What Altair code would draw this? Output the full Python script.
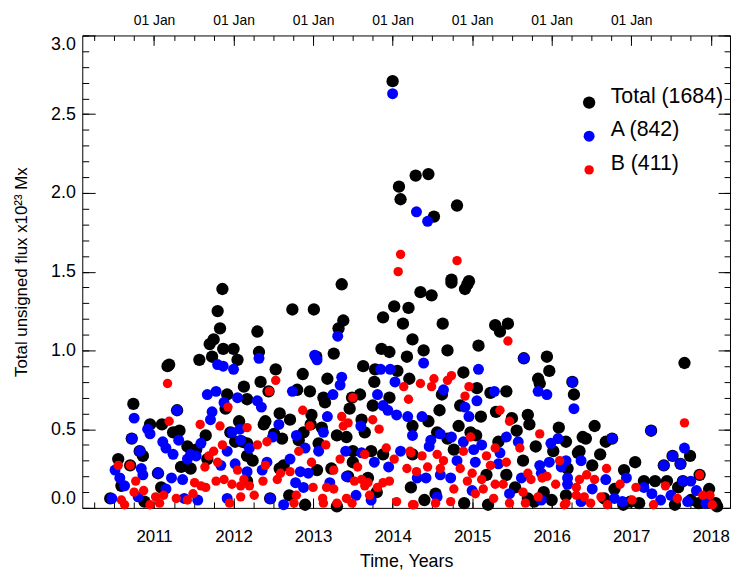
import altair as alt
import pandas as pd

FONT = "Liberation Sans"

series_names = ["Total (1684)", "A (842)", "B (411)"]
series_colors = ["#000000", "#0000ff", "#ff0000"]
series_sizes = [155, 90, 90]

year_ticks = [2011, 2012, 2013, 2014, 2015, 2016, 2017, 2018]
top_label_years = [2011, 2012, 2013, 2014, 2015, 2016, 2017]
quarter_ticks = [2010.25, 2010.5, 2010.75] + [y + q for y in year_ticks[:-1] for q in (0.0, 0.25, 0.5, 0.75)] + [2018.0]
flux_major = [0.0, 0.5, 1.0, 1.5, 2.0, 2.5, 3.0]
flux_minor = [round(i * 0.1, 1) for i in range(31)]

# (decimal year, flux in 1e23 Mx)
total_pts = [
    (2014.00, 2.71), (2014.29, 2.11), (2014.45, 2.12), (2014.08, 2.04), (2014.10, 1.96),
    (2014.52, 1.85), (2014.81, 1.92), (2014.74, 1.45), (2014.96, 1.44),
    (2011.86, 1.39), (2011.80, 1.25), (2011.83, 1.14), (2011.75, 1.07), (2011.70, 1.04),
    (2011.87, 1.01), (2012.00, 1.01), (2011.57, 0.94), (2011.73, 0.96), (2012.05, 0.94),
    (2011.17, 0.90), (2011.19, 0.91), (2010.74, 0.66), (2012.13, 0.77), (2011.92, 0.72),
    (2012.17, 0.69), (2011.90, 0.63), (2010.95, 0.53), (2011.10, 0.53), (2011.24, 0.48),
    (2011.32, 0.49), (2011.65, 0.46), (2012.07, 0.55), (2011.96, 0.48), (2010.72, 0.44),
    (2012.02, 0.42), (2011.42, 0.39), (2011.53, 0.37), (2010.86, 0.33), (2010.55, 0.31),
    (2010.70, 0.27), (2011.05, 0.22), (2011.34, 0.26), (2011.46, 0.25), (2010.59, 0.14),
    (2011.09, 0.13), (2010.45, 0.06), (2010.88, 0.04), (2012.17, 0.33), (2012.11, 0.42),
    (2011.67, 0.31), (2011.29, 0.62), (2010.82, 0.36),
    (2013.36, 1.42), (2012.74, 1.26), (2013.01, 1.26), (2013.38, 1.19), (2013.32, 1.14),
    (2012.30, 1.12), (2014.02, 1.28), (2014.20, 1.27), (2013.88, 1.21), (2014.13, 1.17),
    (2014.25, 1.07), (2012.32, 0.99), (2013.26, 0.98), (2013.04, 0.96), (2013.86, 1.01),
    (2013.96, 0.99), (2014.18, 0.96), (2012.53, 0.88), (2013.63, 0.90), (2012.87, 0.85),
    (2013.78, 0.88), (2014.06, 0.87), (2013.18, 0.82), (2014.21, 0.82), (2012.34, 0.80),
    (2012.44, 0.74), (2012.80, 0.75), (2012.96, 0.74), (2013.13, 0.70), (2013.15, 0.67),
    (2013.59, 0.72), (2013.49, 0.70), (2013.77, 0.80), (2013.96, 0.70), (2013.46, 0.63),
    (2013.75, 0.65), (2012.58, 0.60), (2012.71, 0.56), (2012.98, 0.59), (2012.38, 0.53),
    (2013.11, 0.51), (2013.61, 0.56), (2013.65, 0.48), (2014.25, 0.52), (2012.51, 0.47),
    (2012.61, 0.44), (2012.88, 0.48), (2012.82, 0.43), (2013.30, 0.46), (2013.42, 0.45),
    (2013.07, 0.41), (2012.17, 0.41), (2013.50, 0.36), (2013.73, 0.36), (2013.88, 0.34),
    (2012.24, 0.30), (2012.63, 0.27), (2013.23, 0.25), (2013.50, 0.29), (2013.44, 0.20),
    (2013.69, 0.19), (2014.25, 0.34), (2012.17, 0.17), (2012.46, 0.06),
    (2012.97, 0.53), (2012.58, 0.25), (2013.05, 0.24), (2012.40, 0.55),
    (2014.74, 1.43), (2014.94, 1.42), (2014.91, 1.39), (2014.35, 1.37), (2014.49, 1.35),
    (2014.63, 1.17), (2015.29, 1.16), (2015.45, 1.17), (2015.35, 1.12), (2014.39, 1.00),
    (2014.69, 1.00), (2015.08, 1.03), (2015.94, 0.96), (2015.97, 0.87), (2015.83, 0.82),
    (2015.85, 0.79), (2014.89, 0.86), (2014.62, 0.72), (2015.06, 0.76), (2015.23, 0.73),
    (2015.43, 0.74), (2016.28, 0.72), (2014.85, 0.65), (2014.59, 0.62), (2015.11, 0.58),
    (2015.30, 0.61), (2015.70, 0.59), (2015.72, 0.53), (2014.83, 0.52), (2015.50, 0.57),
    (2015.56, 0.49), (2016.09, 0.51), (2014.56, 0.48), (2014.98, 0.48), (2014.69, 0.44),
    (2015.33, 0.42), (2015.80, 0.39), (2016.02, 0.36), (2016.18, 0.42), (2014.77, 0.37),
    (2016.33, 0.35), (2015.64, 0.30), (2016.20, 0.25), (2015.18, 0.21), (2015.43, 0.21),
    (2014.54, 0.09), (2015.54, 0.13), (2015.70, 0.06), (2016.18, 0.08), (2014.23, 0.13),
    (2015.65, 0.95), (2016.26, 0.80), (2015.05, 0.46), (2015.78, 0.04), (2014.45, 0.55),
    (2017.67, 0.92), (2016.54, 0.52), (2016.39, 0.45), (2016.43, 0.44), (2016.68, 0.42),
    (2016.35, 0.36), (2016.61, 0.34), (2017.05, 0.29), (2017.74, 0.33), (2016.51, 0.27),
    (2016.91, 0.24), (2017.16, 0.17), (2017.30, 0.17), (2017.45, 0.17), (2017.86, 0.21),
    (2017.98, 0.12), (2017.59, 0.13), (2016.79, 0.12), (2016.66, 0.06), (2017.75, 0.05),
    (2018.06, 0.03), (2016.99, 0.04), (2016.76, 0.44), (2017.25, 0.49), (2017.41, 0.27),
    (2017.52, 0.33), (2017.62, 0.28), (2017.65, 0.17),
    (2016.90, 0.02), (2017.10, 0.03), (2017.55, 0.02), (2017.85, 0.03), (2018.08, 0.01),
    (2015.20, 0.02), (2014.90, 0.03), (2013.30, 0.01), (2012.90, 0.02), (2013.80, 0.10),
    (2014.40, 0.05), (2015.90, 0.10), (2016.00, 0.05), (2012.70, 0.08),
]

a_pts = [
    (2014.00, 2.63), (2014.30, 1.88), (2014.44, 1.82),
    (2011.80, 0.91), (2011.87, 0.90), (2012.00, 0.88), (2011.67, 0.72), (2011.78, 0.74),
    (2012.05, 0.70), (2011.88, 0.67), (2011.29, 0.62), (2010.75, 0.57), (2011.73, 0.61),
    (2011.71, 0.56), (2010.92, 0.50), (2010.95, 0.47), (2011.11, 0.42), (2011.15, 0.38),
    (2011.31, 0.43), (2010.72, 0.44), (2010.82, 0.36), (2011.24, 0.34), (2011.46, 0.34),
    (2011.53, 0.33), (2011.98, 0.48), (2012.09, 0.43), (2011.92, 0.36), (2011.59, 0.41),
    (2012.02, 0.28), (2011.84, 0.27), (2010.51, 0.24), (2010.84, 0.25), (2011.05, 0.22),
    (2011.22, 0.19), (2011.36, 0.18), (2010.57, 0.19), (2010.63, 0.14), (2010.86, 0.21),
    (2010.47, 0.06), (2010.80, 0.07), (2011.15, 0.12), (2011.55, 0.05), (2011.92, 0.06),
    (2012.17, 0.23), (2011.42, 0.31), (2011.38, 0.06), (2012.08, 0.50),
    (2013.31, 1.09), (2013.02, 0.97), (2013.05, 0.94), (2012.32, 0.95), (2013.85, 0.88),
    (2013.97, 0.88), (2013.36, 0.83), (2013.34, 0.78), (2014.03, 0.80), (2012.74, 0.74),
    (2013.25, 0.72), (2013.81, 0.72), (2012.30, 0.68), (2012.35, 0.64), (2013.88, 0.65),
    (2013.94, 0.62), (2014.05, 0.59), (2014.19, 0.58), (2013.18, 0.58), (2012.57, 0.53),
    (2013.60, 0.52), (2013.13, 0.48), (2012.79, 0.46), (2012.49, 0.45), (2014.25, 0.46),
    (2012.90, 0.38), (2013.07, 0.36), (2013.41, 0.36), (2014.10, 0.36), (2013.77, 0.29),
    (2013.95, 0.26), (2012.20, 0.38), (2012.42, 0.29), (2012.71, 0.31), (2012.36, 0.24),
    (2012.84, 0.23), (2012.94, 0.22), (2013.42, 0.20), (2012.78, 0.16), (2012.88, 0.13),
    (2013.21, 0.16), (2013.54, 0.08), (2013.73, 0.05), (2012.46, 0.06), (2012.63, 0.02),
    (2013.61, 0.35),
    (2014.39, 0.92), (2015.08, 0.88), (2015.65, 0.95), (2016.26, 0.80), (2014.64, 0.75),
    (2015.28, 0.74), (2015.83, 0.74), (2015.94, 0.72), (2015.06, 0.68), (2014.91, 0.64),
    (2014.96, 0.58), (2014.37, 0.58), (2016.28, 0.63), (2014.60, 0.47), (2014.74, 0.45),
    (2014.48, 0.43), (2014.46, 0.39), (2014.89, 0.42), (2015.12, 0.40), (2015.43, 0.45),
    (2015.58, 0.42), (2015.02, 0.37), (2015.35, 0.35), (2015.99, 0.41), (2016.08, 0.44),
    (2014.81, 0.30), (2015.04, 0.29), (2015.33, 0.28), (2015.85, 0.27), (2015.97, 0.29),
    (2016.12, 0.26), (2014.42, 0.19), (2014.60, 0.21), (2014.73, 0.19), (2015.62, 0.19),
    (2015.87, 0.22), (2016.20, 0.19), (2014.56, 0.07), (2015.47, 0.09), (2015.87, 0.05),
    (2015.00, 0.11), (2014.31, 0.19),
    (2016.76, 0.44), (2017.25, 0.49), (2017.67, 0.38), (2017.52, 0.33), (2017.41, 0.27),
    (2017.62, 0.28), (2016.37, 0.30), (2016.18, 0.30), (2017.65, 0.17), (2017.75, 0.17),
    (2016.68, 0.18), (2016.94, 0.19), (2016.51, 0.12), (2016.20, 0.15), (2017.16, 0.13),
    (2017.26, 0.09), (2016.79, 0.06), (2016.89, 0.04), (2017.37, 0.05), (2017.50, 0.08),
    (2017.71, 0.04), (2017.82, 0.11), (2017.94, 0.03), (2016.37, 0.04),
]

b_pts = [
    (2014.10, 1.61), (2014.07, 1.50), (2014.81, 1.57),
    (2011.17, 0.79), (2011.19, 0.55), (2011.58, 0.53), (2011.93, 0.64), (2011.83, 0.52),
    (2011.86, 0.40), (2011.75, 0.36), (2011.69, 0.33), (2011.80, 0.29), (2011.64, 0.26),
    (2012.17, 0.51), (2012.05, 0.24), (2010.55, 0.27), (2010.70, 0.27), (2010.77, 0.17),
    (2010.75, 0.10), (2010.87, 0.11), (2010.59, 0.05), (2011.02, 0.07), (2011.12, 0.08),
    (2010.95, 0.02), (2011.07, 0.03), (2011.28, 0.06), (2011.42, 0.05), (2011.51, 0.16),
    (2011.59, 0.14), (2011.65, 0.13), (2011.49, 0.09), (2011.78, 0.17), (2011.88, 0.18),
    (2011.98, 0.15), (2012.09, 0.14), (2012.13, 0.18), (2011.95, 0.03), (2012.09, 0.07),
    (2010.63, 0.02),
    (2012.53, 0.81), (2012.45, 0.74), (2013.50, 0.70), (2014.14, 0.77), (2014.20, 0.69),
    (2012.87, 0.62), (2012.96, 0.52), (2013.36, 0.58), (2013.44, 0.54), (2013.38, 0.52),
    (2013.75, 0.56), (2013.83, 0.50), (2012.30, 0.40), (2012.42, 0.42), (2012.82, 0.36),
    (2013.16, 0.40), (2013.65, 0.34), (2013.92, 0.38), (2014.02, 0.31), (2014.22, 0.36),
    (2013.34, 0.31), (2012.98, 0.29), (2012.40, 0.27), (2012.71, 0.23), (2012.59, 0.22),
    (2012.55, 0.18), (2012.37, 0.17), (2013.26, 0.24), (2013.56, 0.26), (2014.18, 0.25),
    (2013.52, 0.17), (2013.61, 0.18), (2013.65, 0.14), (2013.88, 0.16), (2013.96, 0.17),
    (2013.81, 0.13), (2013.71, 0.08), (2012.20, 0.14), (2012.26, 0.08), (2012.79, 0.08),
    (2013.00, 0.13), (2013.17, 0.13), (2013.26, 0.12), (2013.12, 0.06), (2013.30, 0.03),
    (2013.42, 0.06), (2013.49, 0.03), (2012.76, 0.03), (2014.05, 0.04), (2014.25, 0.02),
    (2013.13, 0.03), (2013.69, 0.16),
    (2015.45, 1.06), (2014.35, 0.79), (2014.52, 0.82), (2014.49, 0.77), (2014.69, 0.81),
    (2014.74, 0.84), (2014.96, 0.77), (2014.91, 0.71), (2015.35, 0.62), (2015.47, 0.55),
    (2015.85, 0.47), (2014.98, 0.45), (2015.29, 0.38), (2015.60, 0.38), (2014.89, 0.36),
    (2014.23, 0.35), (2014.37, 0.33), (2014.56, 0.34), (2014.64, 0.30), (2014.44, 0.26),
    (2014.60, 0.25), (2014.30, 0.23), (2015.18, 0.33), (2015.23, 0.27), (2015.43, 0.29),
    (2014.85, 0.25), (2015.00, 0.22), (2015.12, 0.18), (2014.94, 0.17), (2015.14, 0.12),
    (2015.29, 0.15), (2015.39, 0.15), (2014.77, 0.12), (2015.04, 0.09), (2015.70, 0.22),
    (2015.74, 0.18), (2015.88, 0.19), (2015.94, 0.20), (2016.05, 0.15), (2016.10, 0.30),
    (2015.64, 0.10), (2015.83, 0.07), (2015.27, 0.06), (2014.73, 0.04), (2014.54, 0.03),
    (2014.27, 0.02), (2015.67, 0.03), (2016.16, 0.02), (2016.31, 0.08), (2015.47, 0.03),
    (2017.67, 0.54), (2016.69, 0.25), (2016.35, 0.18), (2016.44, 0.21), (2016.54, 0.18),
    (2016.31, 0.13), (2016.41, 0.07), (2016.62, 0.07), (2016.86, 0.15), (2017.06, 0.13),
    (2017.43, 0.14), (2017.58, 0.06), (2017.86, 0.21), (2017.90, 0.08), (2017.99, 0.08),
    (2018.02, 0.02), (2017.28, 0.02), (2017.01, 0.05), (2016.70, 0.02), (2016.49, 0.03),
    (2016.18, 0.03),
]

rows = []
for name, pts in zip(series_names, [total_pts, a_pts, b_pts]):
    for yr, fl in pts:
        rows.append({"year": yr, "flux": fl, "series": name})
df = pd.DataFrame(rows)

W, H = 654, 477
x_scale = alt.Scale(domain=[2010.098, 2010.098 + W / 80.3], nice=False, zero=False)
y_scale = alt.Scale(domain=[0, 3], nice=False, zero=False)

common = dict(grid=False, domain=False, tickColor="black", tickWidth=1,
              labelFont=FONT, labelColor="black", titleFont=FONT,
              titleColor="black", titleFontWeight="normal")


def tick_axis(orient, offset, values, size):
    return alt.Axis(orient=orient, offset=offset, values=values, tickSize=size,
                    labels=False, title=None, **common)


x_bottom_labels = alt.Axis(orient="bottom", values=year_ticks, ticks=False, tickSize=0,
                           labelPadding=21, labelFontSize=17, format="d",
                           title="Time, Years", titleFontSize=18,
                           titleBaseline="alphabetic", titleY=59, **common)
y_left_labels = alt.Axis(orient="left", values=flux_major, ticks=False, tickSize=0,
                         labelPadding=7, labelFontSize=18, format=".1f", labelFlush=True,
                         title="Total unsigned flux x10²³ Mx", titleFontSize=17,
                         titleBaseline="alphabetic", titleX=-56, **common)
x_top_labels = alt.Axis(orient="top", values=top_label_years, ticks=False, tickSize=0,
                        labelPadding=8, labelFontSize=14, labelExpr="'01 Jan'",
                        title=None, **common)

legend = alt.Legend(orient="none", legendX=501, legendY=57, title=None,
                    labelFont=FONT, labelFontSize=21.5, labelColor="black",
                    labelBaseline="alphabetic", rowPadding=10, labelOffset=11,
                    padding=0, symbolStrokeWidth=0)

base = alt.Chart(df)

points = base.mark_circle(opacity=1).encode(
    x=alt.X("year:Q", scale=x_scale, axis=x_bottom_labels),
    y=alt.Y("flux:Q", scale=y_scale, axis=y_left_labels),
    color=alt.Color("series:N", scale=alt.Scale(domain=series_names, range=series_colors), legend=legend),
    size=alt.Size("series:N", scale=alt.Scale(domain=series_names, range=series_sizes), legend=legend),
)


def ghost(xaxis, yaxis):
    return base.mark_circle(opacity=0, size=1).encode(
        x=alt.X("year:Q", scale=x_scale, axis=xaxis),
        y=alt.Y("flux:Q", scale=y_scale, axis=yaxis),
    )


layers = [
    points,
    ghost(tick_axis("top", -H, year_ticks, 10), tick_axis("right", -W, flux_major, 13)),
    ghost(tick_axis("top", -H, quarter_ticks, 6), tick_axis("right", -W, flux_minor, 6.5)),
    ghost(x_top_labels, tick_axis("left", -W, flux_major, 12)),
    ghost(tick_axis("bottom", -H, year_ticks, 10), tick_axis("left", -W, flux_minor, 6)),
    ghost(tick_axis("bottom", -H, quarter_ticks, 5), None),
]

chart = alt.layer(*layers).resolve_axis(x="independent", y="independent").properties(
    width=W, height=H,
    autosize=alt.AutoSizeParams(type="none"),
    padding={"left": 75, "top": 25, "right": 1, "bottom": 62},
    background="white",
).configure_view(stroke="black", strokeWidth=1)

chart.save("out.html", embed_options={"renderer": "svg", "actions": False})
